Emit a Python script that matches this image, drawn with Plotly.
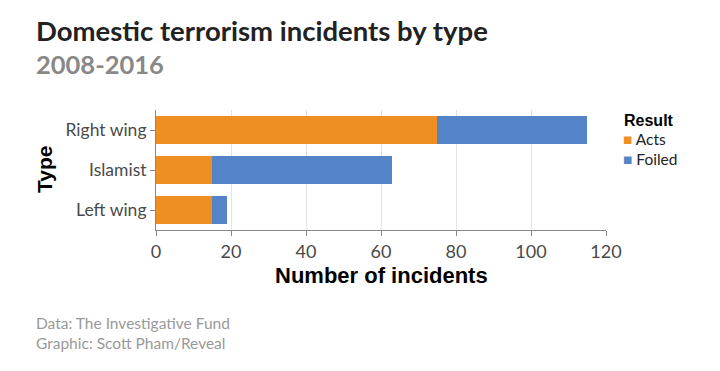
import plotly.graph_objects as go

types = ["Right wing", "Islamist", "Left wing"]
acts = [75, 15, 15]
foiled = [40, 48, 4]
x_ticks = [0, 20, 40, 60, 80, 100, 120]

ORANGE = "#ef8e22"
BLUE = "#5583c8"

# page offset (browser default body margin)
OFF = 8
W, H = 720 - 2 * OFF, 371 - 2 * OFF
L, R, T, B = 156 - OFF, 606 - OFF, 110 - OFF, 230 - OFF


def px(x):
    return (x - OFF - L) / (R - L)


def py(y):
    return (B - (y - OFF)) / (B - T)


fig = go.Figure()
fig.add_trace(go.Bar(y=types, x=acts, name="Acts", orientation="h",
                     marker=dict(color=ORANGE, line=dict(width=0))))
fig.add_trace(go.Bar(y=types, x=foiled, name="Foiled", orientation="h",
                     marker=dict(color=BLUE, line=dict(width=0))))

fig.update_layout(
    width=W, height=H,
    barmode="stack", bargap=0.29,
    paper_bgcolor="white", plot_bgcolor="white",
    margin=dict(l=L, r=W - R, t=T, b=H - B, pad=0, autoexpand=False),
    font=dict(family="Lato", size=16, color="#444"),
    showlegend=False,
    xaxis=dict(
        range=[0, 120], tickvals=x_ticks, ticktext=[str(v) for v in x_ticks],
        showgrid=True, gridcolor="#e3e3e3", gridwidth=1,
        showline=True, linecolor="#888", linewidth=1,
        ticks="outside", ticklen=5, tickcolor="#888",
        zeroline=False, automargin=False,
        tickfont=dict(family="Lato", size=18, color="#4a4a4a"),
    ),
    yaxis=dict(
        categoryorder="array", categoryarray=types[::-1],
        showgrid=False, automargin=False,
        showline=True, linecolor="#888", linewidth=1,
        ticks="outside", ticklen=5, tickcolor="#888",
        tickfont=dict(family="Lato", size=17.5, color="#4a4a4a"),
    ),
    annotations=[
        dict(text="<b>Domestic terrorism incidents by type</b>", xref="paper", yref="paper",
             x=px(34), y=py(31), xanchor="left", yanchor="middle", showarrow=False,
             font=dict(family="Lato", size=27.5, color="#222")),
        dict(text="<b>2008-2016</b>", xref="paper", yref="paper",
             x=px(34), y=py(64), xanchor="left", yanchor="middle", showarrow=False,
             font=dict(family="Lato", size=25.5, color="#888")),
        dict(text="Data: The Investigative Fund<br>Graphic: Scott Pham/Reveal", xref="paper", yref="paper",
             x=px(34), y=py(333), xanchor="left", yanchor="middle", showarrow=False, align="left",
             font=dict(family="Lato", size=15.5, color="#999")),
        # axis titles
        dict(text="<b>Number of incidents</b>", xref="paper", yref="paper",
             x=0.5, y=py(275), xanchor="center", yanchor="middle", showarrow=False,
             font=dict(family="Liberation Sans, Arial", size=22, color="#000")),
        dict(text="<b>Type</b>", xref="paper", yref="paper", textangle=-90,
             x=px(44), y=0.5, xanchor="center", yanchor="middle", showarrow=False,
             font=dict(family="Liberation Sans, Arial", size=21, color="#000")),
        # legend
        dict(text="<b>Result</b>", xref="paper", yref="paper",
             x=px(623), y=py(120), xanchor="left", yanchor="middle", showarrow=False,
             borderpad=0, font=dict(family="Liberation Sans, Arial", size=16, color="#000")),
        dict(text=f"<span style='color:{ORANGE}'>■</span> Acts", xref="paper", yref="paper",
             x=px(622), y=py(139), xanchor="left", yanchor="middle", showarrow=False,
             borderpad=0, font=dict(family="Lato", size=15.5, color="#222")),
        dict(text=f"<span style='color:{BLUE}'>■</span> Foiled", xref="paper", yref="paper",
             x=px(622), y=py(159), xanchor="left", yanchor="middle", showarrow=False,
             borderpad=0, font=dict(family="Lato", size=15.5, color="#222")),
    ],
)

fig.write_html("out.html")
